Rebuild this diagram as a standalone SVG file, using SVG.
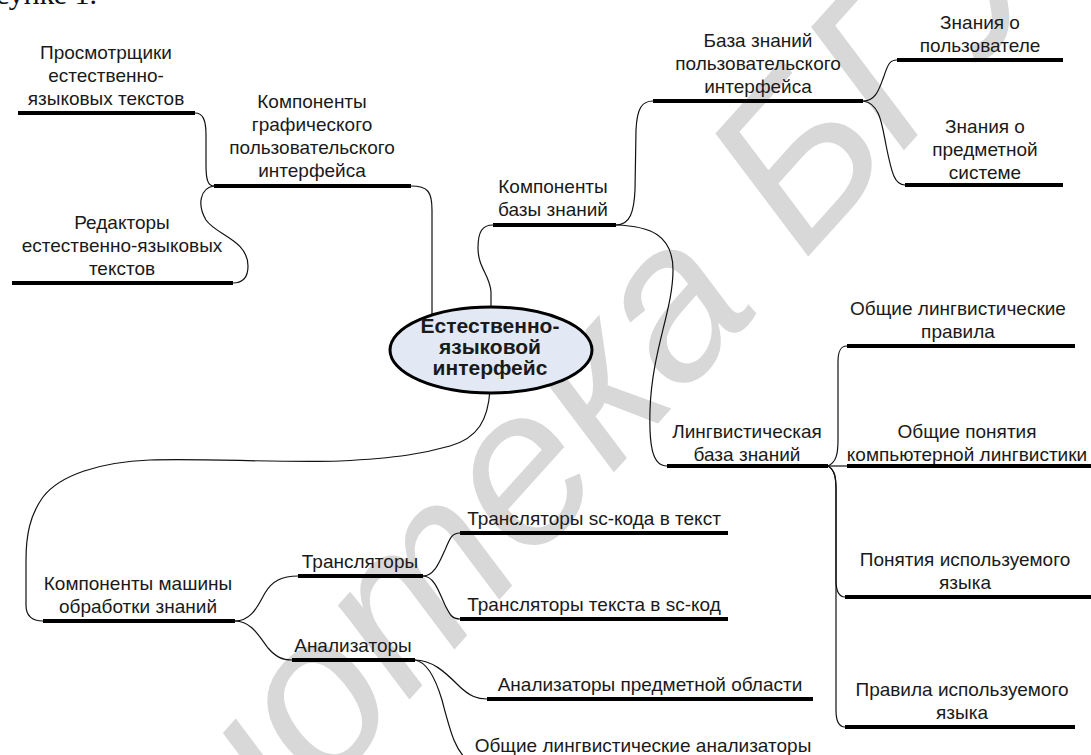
<svg xmlns="http://www.w3.org/2000/svg" width="1091" height="755" viewBox="0 0 1091 755">
<style>
.t{font-family:"Liberation Sans",Arial,sans-serif;font-size:19px;fill:#1a1a1a;text-anchor:middle}
.b{font-weight:bold;font-size:21px}
.bar{stroke:#000;stroke-width:4;fill:none}
.c{fill:none;stroke:#111;stroke-width:1.2}
.wm{font-family:"Liberation Sans",Arial,sans-serif;font-style:italic;font-size:220px;fill:#d8d8d8}
</style>
<rect width="1091" height="755" fill="#fff"/>
<text class="wm" transform="translate(-97,1262) rotate(-48)">Библиотека БГУИР</text>
<text x="97" y="4" style="font-family:'Liberation Serif','Times New Roman',serif;font-size:30px;text-anchor:end;fill:#111">рисунке 1.</text>
<g id="connectors">
<path class="c" d="M195,113 C203,113 206,120 206,135 L206,165 C206,180 208,186 214,186"/>
<path class="c" d="M214,186 C200,188 197,205 206,220 C216,235 248,240 248,266 C248,280 240,283 233,283"/>
<path class="c" d="M411,186 C428,186 432,192 432,210 L432,318"/>
<path class="c" d="M493,225 C482,225 478,232 478,248 C478,268 490,275 491,292 L491,312"/>
<path class="c" d="M616,225 C630,225 634,212 635,190 L636,130 C637,108 642,101 653,101"/>
<path class="c" d="M616,225 C650,226 673,235 673,270 C673,310 652,350 650,410 C649,445 652,466 667,466"/>
<path class="c" d="M863,101 C877,101 880,86 884,76 C888,64 890,60 897,60"/>
<path class="c" d="M863,101 C880,103 882,125 886,145 C892,175 895,185 905,185"/>
<path class="c" d="M828,466 C836,462 838,455 838,440 L838,362 C838,350 841,346 847,346"/>
<path class="c" d="M828,466 L847,466"/>
<path class="c" d="M828,466 C835,470 836,478 836,490 L836,580 C836,592 840,597 845,597"/>
<path class="c" d="M828,466 C835,470 836,478 836,490 L836,710 C836,722 840,727 845,727"/>
<path class="c" d="M490,390 C488,420 478,438 450,446 C425,453 400,458 340,461 C280,463 200,458 150,460 C100,462 60,475 43,497 C30,515 26,535 26,560 L26,605 C26,616 32,621 43,621"/>
<path class="c" d="M235,621 C252,621 258,605 265,593 C272,581 282,576 298,576"/>
<path class="c" d="M235,621 C252,621 260,638 268,648 C276,657 282,660 292,660"/>
<path class="c" d="M423,576 C435,576 440,560 445,550 C450,538 452,533 460,533"/>
<path class="c" d="M423,576 C435,576 440,595 445,605 C450,615 452,619 460,619"/>
<path class="c" d="M415,660 C432,660 445,672 458,685 C470,697 478,699 487,699"/>
<path class="c" d="M415,660 C428,662 436,680 442,700 C450,730 455,752 470,762"/>
</g>
<g id="n-root">
<ellipse cx="491" cy="350" rx="101" ry="43" fill="#e2e9f4" stroke="#000" stroke-width="3"/>
<text class="t b" x="490" y="333">Естественно-</text>
<text class="t b" x="490" y="354">языковой</text>
<text class="t b" x="490" y="375">интерфейс</text>
</g>
<g id="n-viewers">
<text class="t" x="106" y="59">Просмотрщики</text>
<text class="t" x="106" y="82">естественно-</text>
<text class="t" x="106" y="105">языковых текстов</text>
<line class="bar" x1="18" y1="113" x2="195" y2="113"/>
</g>
<g id="n-gui">
<text class="t" x="312" y="108">Компоненты</text>
<text class="t" x="312" y="131">графического</text>
<text class="t" x="312" y="154">пользовательского</text>
<text class="t" x="312" y="177">интерфейса</text>
<line class="bar" x1="214" y1="186" x2="411" y2="186"/>
</g>
<g id="n-editors">
<text class="t" x="122" y="229">Редакторы</text>
<text class="t" x="122" y="252">естественно-языковых</text>
<text class="t" x="122" y="275">текстов</text>
<line class="bar" x1="12" y1="283" x2="233" y2="283"/>
</g>
<g id="n-kb">
<text class="t" x="553" y="193">Компоненты</text>
<text class="t" x="553" y="216">базы знаний</text>
<line class="bar" x1="493" y1="225" x2="616" y2="225"/>
</g>
<g id="n-uikb">
<text class="t" x="758" y="47">База знаний</text>
<text class="t" x="758" y="70">пользовательского</text>
<text class="t" x="758" y="93">интерфейса</text>
<line class="bar" x1="653" y1="101" x2="863" y2="101"/>
</g>
<g id="n-user">
<text class="t" x="980" y="29">Знания о</text>
<text class="t" x="980" y="52">пользователе</text>
<line class="bar" x1="897" y1="60" x2="1063" y2="60"/>
</g>
<g id="n-subject">
<text class="t" x="985" y="133">Знания о</text>
<text class="t" x="985" y="156">предметной</text>
<text class="t" x="985" y="179">системе</text>
<line class="bar" x1="905" y1="185" x2="1063" y2="185"/>
</g>
<g id="n-lingkb">
<text class="t" x="747" y="438">Лингвистическая</text>
<text class="t" x="747" y="461">база знаний</text>
<line class="bar" x1="667" y1="466" x2="828" y2="466"/>
</g>
<g id="n-rules">
<text class="t" x="958" y="315">Общие лингвистические</text>
<text class="t" x="958" y="338">правила</text>
<line class="bar" x1="847" y1="346" x2="1075" y2="346"/>
</g>
<g id="n-concepts">
<text class="t" x="967" y="438">Общие понятия</text>
<text class="t" x="967" y="461">компьютерной лингвистики</text>
<line class="bar" x1="847" y1="466" x2="1091" y2="466"/>
</g>
<g id="n-langconcepts">
<text class="t" x="965" y="566">Понятия используемого</text>
<text class="t" x="965" y="589">языка</text>
<line class="bar" x1="845" y1="597" x2="1091" y2="597"/>
</g>
<g id="n-langrules">
<text class="t" x="962" y="696">Правила используемого</text>
<text class="t" x="962" y="719">языка</text>
<line class="bar" x1="845" y1="727" x2="1075" y2="727"/>
</g>
<g id="n-machine">
<text class="t" x="138" y="590">Компоненты машины</text>
<text class="t" x="138" y="613">обработки знаний</text>
<line class="bar" x1="43" y1="621" x2="235" y2="621"/>
</g>
<g id="n-translators">
<text class="t" x="360" y="568">Трансляторы</text>
<line class="bar" x1="298" y1="576" x2="423" y2="576"/>
</g>
<g id="n-analyzers">
<text class="t" x="353" y="652">Анализаторы</text>
<line class="bar" x1="292" y1="660" x2="415" y2="660"/>
</g>
<g id="n-sc2text">
<text class="t" x="594" y="525">Трансляторы sc-кода в текст</text>
<line class="bar" x1="460" y1="533" x2="728" y2="533"/>
</g>
<g id="n-text2sc">
<text class="t" x="594" y="611">Трансляторы текста в sc-код</text>
<line class="bar" x1="460" y1="619" x2="728" y2="619"/>
</g>
<g id="n-subjan">
<text class="t" x="650" y="691">Анализаторы предметной области</text>
<line class="bar" x1="487" y1="699" x2="813" y2="699"/>
</g>
<g id="n-lingan">
<text class="t" x="643" y="752">Общие лингвистические анализаторы</text>
<line class="bar" x1="470" y1="763" x2="826" y2="763"/>
</g>
</svg>
